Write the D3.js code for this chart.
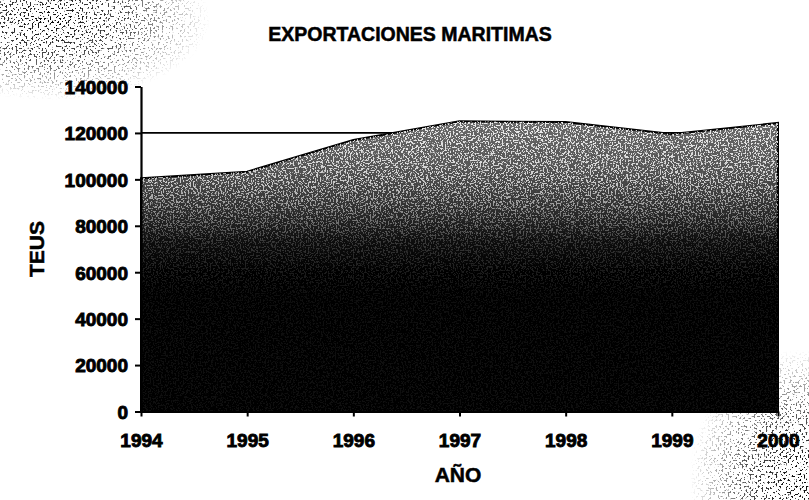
<!DOCTYPE html>
<html>
<head>
<meta charset="utf-8">
<script src="https://cdn.jsdelivr.net/npm/d3@7"></script>
<style>
  body { margin: 0; background: #fff; }
  svg { display: block; }
  text { font-family: 'Liberation Sans', Arial, sans-serif; font-weight: bold; fill: #000; }
</style>
</head>
<body>
<svg id="chart" width="809" height="500"></svg>
<script>
const years = ['1994', '1995', '1996', '1997', '1998', '1999', '2000'];
const teus = [100500, 103300, 117000, 125000, 124700, 119500, 124300];
const yTicks = [0, 20000, 40000, 60000, 80000, 100000, 120000, 140000];
const title = 'EXPORTACIONES MARITIMAS';
const xTitle = 'AÑO';
const yTitle = 'TEUS';

const svg = d3.select('#chart');
const plotLeft = 141, plotRight = 778, plotTop = 86.5, plotBottom = 411.5;

const x = d3.scalePoint().domain(years).range([plotLeft, plotRight]);
const y = d3.scaleLinear().domain([0, 140000]).range([plotBottom, plotTop]);

const defs = svg.append('defs');

// dark fill, grey at the top going to solid black
const grad = defs.append('linearGradient')
  .attr('id', 'fill')
  .attr('gradientUnits', 'userSpaceOnUse')
  .attr('x1', 0).attr('x2', 0)
  .attr('y1', y(126000)).attr('y2', y(0));
[[126000, '#6a6a6a'], [105000, '#555'], [88000, '#303030'], [74000, '#0e0e0e'], [60000, '#000'], [0, '#000']]
  .forEach(([v, c]) => grad.append('stop')
    .attr('offset', (y(v) - y(126000)) / (y(0) - y(126000)))
    .attr('stop-color', c));

// speckle noise (white dots inside the area)
const speck = defs.append('filter').attr('id', 'speck')
  .attr('x', 0).attr('y', 0).attr('width', 1).attr('height', 1);
speck.append('feTurbulence').attr('type', 'fractalNoise')
  .attr('baseFrequency', 0.6).attr('numOctaves', 2).attr('seed', 4);
speck.append('feColorMatrix').attr('type', 'matrix')
  .attr('values', '0 0 0 0 1  0 0 0 0 1  0 0 0 0 1  14 0 0 0 -7.3');

// black dots for the scan smudges in the corners
const dots = defs.append('filter').attr('id', 'dots')
  .attr('x', 0).attr('y', 0).attr('width', 1).attr('height', 1);
dots.append('feTurbulence').attr('type', 'fractalNoise')
  .attr('baseFrequency', 0.5).attr('numOctaves', 2).attr('seed', 9);
dots.append('feColorMatrix').attr('type', 'matrix')
  .attr('values', '0 0 0 0 0  0 0 0 0 0  0 0 0 0 0  16 0 0 0 -9.2');

const fade = defs.append('linearGradient')
  .attr('id', 'fade')
  .attr('gradientUnits', 'userSpaceOnUse')
  .attr('x1', 0).attr('x2', 0)
  .attr('y1', y(126000)).attr('y2', y(50000));
fade.append('stop').attr('offset', 0).attr('stop-color', '#fff');
fade.append('stop').attr('offset', 0.35).attr('stop-color', '#ccc');
fade.append('stop').attr('offset', 0.7).attr('stop-color', '#333');
fade.append('stop').attr('offset', 1).attr('stop-color', '#111');
defs.append('mask').attr('id', 'fadeMask')
  .attr('maskUnits', 'userSpaceOnUse')
  .attr('x', 0).attr('y', 0).attr('width', 809).attr('height', 500)
  .append('rect').attr('x', 0).attr('y', 0).attr('width', 809).attr('height', 500)
  .attr('fill', 'url(#fade)');

// elliptical fading masks for the corner smudges
function cornerMask(id, transform, r) {
  const rg = defs.append('radialGradient').attr('id', id + 'g')
    .attr('gradientUnits', 'userSpaceOnUse')
    .attr('gradientTransform', transform)
    .attr('cx', 0).attr('cy', 0).attr('r', r);
  rg.append('stop').attr('offset', 0).attr('stop-color', '#fff');
  rg.append('stop').attr('offset', 0.5).attr('stop-color', '#aaa');
  rg.append('stop').attr('offset', 1).attr('stop-color', '#000');
  defs.append('mask').attr('id', id).attr('maskUnits', 'userSpaceOnUse')
    .attr('x', 0).attr('y', 0).attr('width', 809).attr('height', 500)
    .append('rect').attr('width', 809).attr('height', 500).attr('fill', `url(#${id}g)`);
}
cornerMask('cornerMask1', 'translate(50,20) scale(1,0.5)', 160);
cornerMask('cornerMask2', 'translate(800,480) scale(0.85,1)', 130);

// scan smudges
svg.append('rect').attr('x', 0).attr('y', 0).attr('width', 230).attr('height', 160)
  .attr('filter', 'url(#dots)').attr('mask', 'url(#cornerMask1)');
svg.append('rect').attr('x', 660).attr('y', 340).attr('width', 149).attr('height', 160)
  .attr('filter', 'url(#dots)').attr('mask', 'url(#cornerMask2)');

// gridlines (only visible above the area)
svg.append('g')
  .selectAll('line')
  .data(yTicks.filter(d => d > 0 && d < 140000))
  .join('line')
  .attr('x1', plotLeft).attr('x2', plotRight)
  .attr('y1', d => y(d)).attr('y2', d => y(d))
  .attr('stroke', '#000').attr('stroke-width', 1.8);

const area = d3.area()
  .x((d, i) => x(years[i]))
  .y0(y(0))
  .y1(d => y(d));

defs.append('clipPath').attr('id', 'areaClip')
  .append('path').attr('d', area(teus));

svg.append('path')
  .attr('d', area(teus))
  .attr('fill', 'url(#fill)')
  .attr('stroke', '#000')
  .attr('stroke-width', 2);

svg.append('g')
  .attr('clip-path', 'url(#areaClip)')
  .append('rect')
  .attr('x', plotLeft).attr('y', plotTop)
  .attr('width', plotRight - plotLeft).attr('height', plotBottom - plotTop)
  .attr('filter', 'url(#speck)')
  .attr('mask', 'url(#fadeMask)')
  .attr('opacity', 0.9);

// axes
const yAxis = svg.append('g')
  .attr('transform', `translate(${plotLeft},0)`)
  .call(d3.axisLeft(y).tickValues(yTicks).tickSize(6).tickSizeOuter(0).tickPadding(7)
    .tickFormat(d3.format('d')));
const xAxis = svg.append('g')
  .attr('transform', `translate(0,${plotBottom})`)
  .call(d3.axisBottom(x).tickSize(5).tickSizeOuter(0).tickPadding(17));

[yAxis, xAxis].forEach(g => {
  g.select('.domain').attr('stroke', '#000').attr('stroke-width', 2.2);
  g.selectAll('.tick line').attr('stroke', '#000').attr('stroke-width', 2);
  g.selectAll('.tick text')
    .attr('fill', '#000')
    .attr('stroke', '#000')
    .attr('stroke-width', 0.9)
    .style('font-family', "'Liberation Sans', Arial, sans-serif")
    .style('font-weight', 'bold')
    .style('font-size', '19px');
});
yAxis.selectAll('.tick text').attr('dy', '0.36em');

// titles
const titles = svg.append('g').attr('stroke', '#000').attr('stroke-width', 0.5);
titles.append('text')
  .attr('x', 410).attr('y', 41)
  .attr('text-anchor', 'middle')
  .style('font-size', '19.5px')
  .text(title);

titles.append('text')
  .attr('x', 458).attr('y', 482)
  .attr('text-anchor', 'middle')
  .style('font-size', '21px')
  .text(xTitle);

titles.append('text')
  .attr('transform', 'translate(44,249) rotate(-90)')
  .attr('text-anchor', 'middle')
  .style('font-size', '21px')
  .text(yTitle);
</script>
</body>
</html>
